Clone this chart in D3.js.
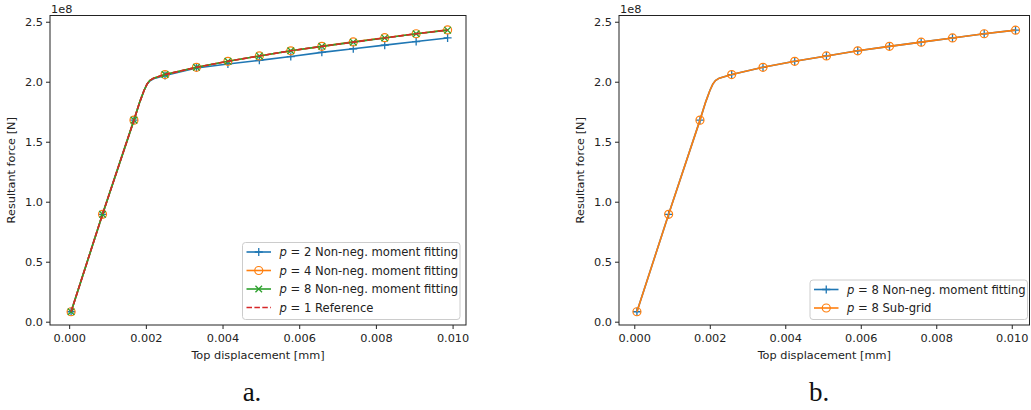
<!DOCTYPE html>
<html>
<head>
<meta charset="utf-8">
<script src="https://cdn.jsdelivr.net/npm/d3@7"></script>
<style>
  body { margin: 0; background: #fff; }
  text { font-family: "DejaVu Sans", sans-serif; }
</style>
</head>
<body>
<div id="chart"></div>
<script>
// top displacement [mm] and resultant force [1e8 N]
const dispA = [0.00005, 0.00087, 0.00169, 0.00184, 0.00195, 0.00203, 0.00210, 0.00220, 0.00250,
               0.00332, 0.00414, 0.00496, 0.00578, 0.00659, 0.00741, 0.00823, 0.00905, 0.00987];
const dispB = [0.00007, 0.00091, 0.00174, 0.00189, 0.00200, 0.00208, 0.00215, 0.00225, 0.00258,
               0.00341, 0.00425, 0.00509, 0.00592, 0.00676, 0.00760, 0.00843, 0.00927, 0.01010];
// which points carry a marker (the rest only shape the knee)
const marked = [1, 1, 1, 0, 0, 0, 0, 0, 1, 1, 1, 1, 1, 1, 1, 1, 1, 1];

const forceP2 = [0.083, 0.895, 1.68, 1.83, 1.925, 1.98, 2.005, 2.025, 2.052,
                 2.115, 2.148, 2.178, 2.21, 2.245, 2.275, 2.305, 2.335, 2.365];
const forceP4 = [0.083, 0.895, 1.68, 1.83, 1.925, 1.98, 2.01, 2.03, 2.06,
                 2.12, 2.17, 2.215, 2.258, 2.295, 2.332, 2.367, 2.40, 2.432];
const forceP8 = [0.083, 0.895, 1.68, 1.83, 1.925, 1.98, 2.01, 2.03, 2.06,
                 2.12, 2.17, 2.215, 2.258, 2.295, 2.33, 2.365, 2.40, 2.43];
const forceRef = [0.083, 0.895, 1.68, 1.83, 1.925, 1.98, 2.01, 2.03, 2.06,
                  2.12, 2.17, 2.215, 2.258, 2.295, 2.33, 2.365, 2.40, 2.43];
const forceSub = [0.083, 0.895, 1.68, 1.83, 1.925, 1.98, 2.01, 2.03, 2.06,
                  2.12, 2.17, 2.215, 2.258, 2.295, 2.33, 2.365, 2.40, 2.43];

const xTicks = [0, 0.002, 0.004, 0.006, 0.008, 0.010];
const yTicks = [0, 0.5, 1.0, 1.5, 2.0, 2.5];

const seriesA = [
  {label: "2 Non-neg. moment fitting", y: forceP2, color: "#1f77b4", marker: "plus"},
  {label: "4 Non-neg. moment fitting", y: forceP4, color: "#ff7f0e", marker: "circle"},
  {label: "8 Non-neg. moment fitting", y: forceP8, color: "#2ca02c", marker: "x"},
  {label: "1 Reference", y: forceRef, color: "#d62728", marker: null, dash: "5.5,2.4"}
];
const seriesB = [
  {label: "8 Non-neg. moment fitting", y: forceP8, color: "#1f77b4", marker: "plus"},
  {label: "8 Sub-grid", y: forceSub, color: "#ff7f0e", marker: "circle"}
];

const width = 1031, height = 410;
const fs = 11.3;
const svg = d3.select("#chart").append("svg")
    .attr("width", width)
    .attr("height", height);

function drawMarker(g, type, x, y, color) {
  if (type == "plus") {
    g.append("path").attr("d", `M${x-4},${y}H${x+4}M${x},${y-4}V${y+4}`)
      .attr("stroke", color).attr("stroke-width", 1.3).attr("fill", "none");
  } else if (type == "x") {
    g.append("path").attr("d", `M${x-3.3},${y-3.3}L${x+3.3},${y+3.3}M${x-3.3},${y+3.3}L${x+3.3},${y-3.3}`)
      .attr("stroke", color).attr("stroke-width", 1.3).attr("fill", "none");
  } else if (type == "circle") {
    g.append("circle").attr("cx", x).attr("cy", y).attr("r", 4)
      .attr("stroke", color).attr("stroke-width", 1.2).attr("fill", "none");
  }
}

function panel(box, xDomain, disp, series, legendBox, caption, capX) {
  const x = d3.scaleLinear().domain(xDomain).range([box.left, box.right]);
  const y = d3.scaleLinear().domain([-0.0275, 2.552]).range([box.bottom, box.top]);
  const g = svg.append("g");

  // lines and markers
  series.forEach(s => {
    const pts = disp.map((d, i) => [d, s.y[i], marked[i]]);
    g.append("path")
      .datum(pts)
      .attr("d", d3.line().x(d => x(d[0])).y(d => y(d[1])))
      .attr("fill", "none")
      .attr("stroke", s.color)
      .attr("stroke-width", 1.6)
      .attr("stroke-dasharray", s.dash || null);
    if (s.marker) {
      pts.filter(d => d[2]).forEach(d => drawMarker(g, s.marker, x(d[0]), y(d[1]), s.color));
    }
  });

  // axes
  g.append("g").attr("transform", `translate(0,${box.bottom})`)
    .call(d3.axisBottom(x).tickValues(xTicks).tickFormat(d3.format(".3f")).tickSize(4).tickSizeOuter(0))
    .call(a => a.select(".domain").remove())
    .selectAll("text").attr("font-size", fs).attr("fill", "#222").attr("dy", "0.9em");
  g.append("g").attr("transform", `translate(${box.left},0)`)
    .call(d3.axisLeft(y).tickValues(yTicks).tickFormat(d3.format(".1f")).tickSize(4).tickSizeOuter(0))
    .call(a => a.select(".domain").remove())
    .selectAll("text").attr("font-size", fs).attr("fill", "#222");
  g.selectAll(".tick line").attr("stroke", "#222");

  g.append("rect")
    .attr("x", box.left).attr("y", box.top)
    .attr("width", box.right - box.left).attr("height", box.bottom - box.top)
    .attr("fill", "none").attr("stroke", "#222").attr("stroke-width", 1);

  g.append("text").attr("x", box.left + 1).attr("y", box.top - 3)
    .attr("font-size", fs).attr("fill", "#222").text("1e8");

  g.append("text")
    .attr("x", (box.left + box.right) / 2).attr("y", 359)
    .attr("text-anchor", "middle").attr("font-size", fs).attr("fill", "#222")
    .text("Top displacement [mm]");
  g.append("text")
    .attr("transform", `translate(${box.left - 35},${(box.top + box.bottom) / 2}) rotate(-90)`)
    .attr("text-anchor", "middle").attr("font-size", fs).attr("fill", "#222")
    .text("Resultant force [N]");

  // legend
  const lg = g.append("g");
  lg.append("rect")
    .attr("x", legendBox.x).attr("y", legendBox.y)
    .attr("width", legendBox.w).attr("height", legendBox.h)
    .attr("rx", 3).attr("fill", "#fff").attr("fill-opacity", 0.8)
    .attr("stroke", "#ccc").attr("stroke-width", 1);
  series.forEach((s, i) => {
    const cy = legendBox.y + 9.5 + i * 18.5;
    const x0 = legendBox.x + 4, x1 = legendBox.x + 28.5;
    lg.append("line").attr("x1", x0).attr("x2", x1).attr("y1", cy).attr("y2", cy)
      .attr("stroke", s.color).attr("stroke-width", 1.6)
      .attr("stroke-dasharray", s.dash || null);
    if (s.marker) drawMarker(lg, s.marker, (x0 + x1) / 2, cy, s.color);
    const t = lg.append("text").attr("x", legendBox.x + 37).attr("y", cy + 4)
      .attr("font-size", 11.6).attr("fill", "#222");
    t.append("tspan").attr("font-style", "italic").text("p");
    t.append("tspan").text(" = " + s.label);
  });

  svg.append("text")
    .attr("x", capX).attr("y", 401)
    .attr("text-anchor", "middle")
    .style("font-family", "'Liberation Serif', serif")
    .attr("font-size", 27).attr("fill", "#111")
    .text(caption);
}

panel({left: 50, right: 466, top: 15.5, bottom: 325}, [-0.0005, 0.01035], dispA, seriesA,
      {x: 242.5, y: 242.5, w: 217.5, h: 77}, "a.", 252);
panel({left: 619, right: 1029.5, top: 15.5, bottom: 325}, [-0.000405, 0.01047], dispB, seriesB,
      {x: 810, y: 280, w: 217.5, h: 39.5}, "b.", 819);
</script>
</body>
</html>
